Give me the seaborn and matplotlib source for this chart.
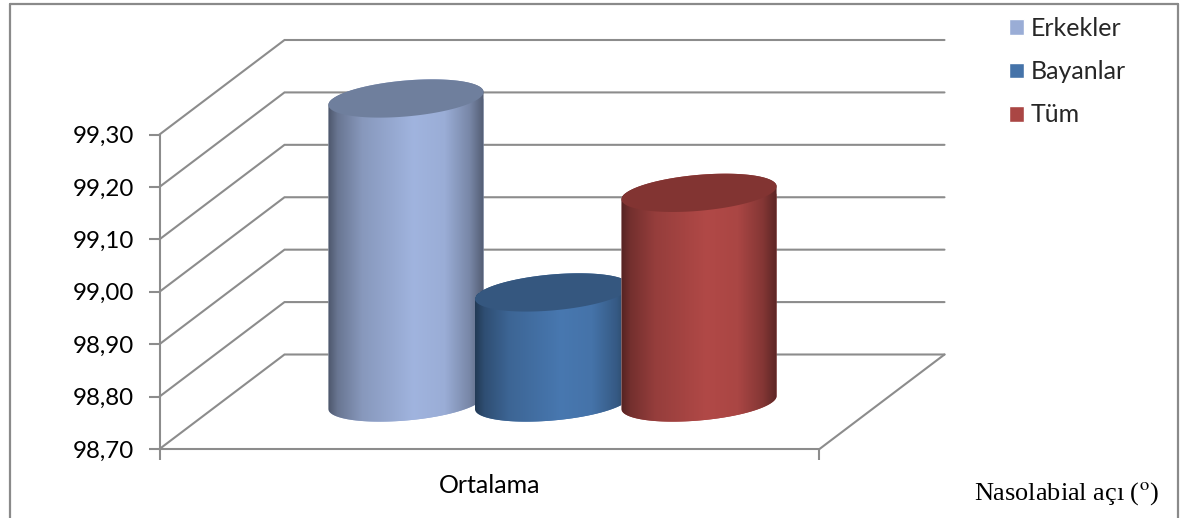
import numpy as np
import pandas as pd
import matplotlib
matplotlib.use("Agg")
import matplotlib.pyplot as plt
from matplotlib.colors import LinearSegmentedColormap, to_rgb
from matplotlib.lines import Line2D
from matplotlib.patches import Polygon
import seaborn as sns

# Chart values
groups = ["Erkekler", "Bayanlar", "Tüm"]
means = [99.28, 98.91, 99.10]
category = "Ortalama"
y_ticks = [98.70, 98.80, 98.90, 99.00, 99.10, 99.20, 99.30]
palette = {"Erkekler": "#9AADD6", "Bayanlar": "#4573A9", "Tüm": "#AA4644"}
cap_colors = {"Erkekler": "#6F7F9D", "Bayanlar": "#35577F", "Tüm": "#823432"}

W, H = 1180, 518
GRID = "#8C8C8C"
FONT = "Lato"

sns.set_theme(style="white")
plt.rcParams["font.family"] = [FONT, "DejaVu Sans"]
plt.rcParams["mathtext.fontset"] = "stix"

fig = plt.figure(figsize=(W / 100, H / 100), dpi=100, facecolor="white")


def axes_box(left, right, top, bottom):
    """Axes rectangle from pixel edges measured from the top-left corner."""
    return [left / W, 1 - bottom / H, (right - left) / W, (bottom - top) / H]


# Outer frame, open at the bottom edge
for xs, ys in [((9.5, 9.5), (H, 4)), ((9.5, 1177.5), (4, 4)), ((1177.5, 1177.5), (4, H))]:
    fig.add_artist(Line2D([x / W for x in xs], [1 - y / H for y in ys],
                          color="#8A8A8A", lw=1.6))

# Front plane: value axis, category ticks and the receding grid
ax = fig.add_axes(axes_box(159.5, 819.5, 134.5, 449), facecolor="none")
ax.set_xlim(0, 1)
ax.set_ylim(y_ticks[0], y_ticks[-1])
px_x = 1 / 660
px_y = (y_ticks[-1] - y_ticks[0]) / 314.5
depth_x, depth_y = 125 * px_x, 94.5 * px_y

for v in y_ticks:
    ax.plot([0, depth_x, 1 + depth_x], [v, v + depth_y, v + depth_y],
            color=GRID, lw=1.5, clip_on=False, solid_joinstyle="miter")
ax.plot([1, 1 + depth_x], [y_ticks[0], y_ticks[0] + depth_y], color=GRID, lw=1.5, clip_on=False)

sns.despine(ax=ax, top=True, right=True)
for side in ("left", "bottom"):
    ax.spines[side].set_color(GRID)
    ax.spines[side].set_linewidth(1.5)
ax.set_yticks(y_ticks)
ax.set_yticklabels([f"{v:.2f}".replace(".", ",") for v in y_ticks], fontsize=17.4, color="black")
ax.set_xticks([0, 1])
ax.set_xticklabels(["", ""])
ax.set_xticks([0.5], [category], minor=True, fontsize=18, color="black")
ax.tick_params(axis="both", which="major", length=8, width=1.5, color=GRID, left=True, bottom=True)
ax.tick_params(axis="y", pad=10.5)
ax.tick_params(axis="x", which="minor", length=0, pad=18)

# Bars stand halfway back along the depth direction
bars_ax = fig.add_axes(axes_box(159.5 + 63, 819.5 + 63, 134.5 - 46.5, 449 - 46.5), facecolor="none")
df = pd.DataFrame({"grup": groups, "ortalama": means, "olcum": [category] * len(groups)})
sns.barplot(data=df, x="olcum", y="ortalama", hue="grup", hue_order=groups, palette=palette,
            width=0.666, gap=0, saturation=1, dodge=True, ax=bars_ax, legend=True)
bars_ax.set_xlim(-0.5, 0.5)
bars_ax.set_ylim(y_ticks[0], y_ticks[-1])
bars_ax.set_axis_off()

# Cylinder bodies: sheared ellipses at both ends and a horizontal shading ramp
half_w = 0.1175
tilt = 6.5 * px_y
half_h = 18 * px_y
ramp_stops = [(0.0, 0.50), (0.06, 0.68), (0.22, 0.88), (0.55, 1.04), (0.75, 1.0), (0.91, 0.78), (1.0, 0.54)]

for i, (patch, name, value) in enumerate(zip(bars_ax.patches, groups, means)):
    cx = patch.get_x() + patch.get_width() / 2
    base = np.array(to_rgb(palette[name]))
    cmap = LinearSegmentedColormap.from_list(
        name, [(p, tuple(np.clip(base * f, 0, 1))) for p, f in ramp_stops])

    t_low = np.linspace(0, np.pi, 80)
    t_up = np.linspace(np.pi, 2 * np.pi, 80)
    # Lower half of the base ellipse, then the far half of the top ellipse
    low = np.c_[cx + half_w * np.cos(t_low),
                y_ticks[0] + tilt * np.cos(t_low) - half_h * np.sin(t_low)]
    up = np.c_[cx + half_w * np.cos(t_up),
               value + tilt * np.cos(t_up) - half_h * np.sin(t_up)]
    outline = Polygon(np.r_[low, up], closed=True, transform=bars_ax.transData)

    z = 3 + i * 3
    patch.set_x(cx - half_w)
    patch.set_width(2 * half_w)
    patch.set_zorder(z)
    patch.set_clip_box(fig.bbox)
    patch.set_clip_path(outline)

    shade = bars_ax.imshow(np.linspace(0, 1, 256)[None, :], cmap=cmap, aspect="auto",
                           extent=[cx - half_w, cx + half_w, y_ticks[0] - 2 * half_h, value + 2 * half_h],
                           zorder=z + 0.5)
    shade.set_clip_box(fig.bbox)
    shade.set_clip_path(outline)

    cap_t = np.linspace(0, 2 * np.pi, 160)
    bars_ax.add_patch(Polygon(np.c_[cx + half_w * np.cos(cap_t),
                                    value + tilt * np.cos(cap_t) + half_h * np.sin(cap_t)],
                              closed=True, facecolor=cap_colors[name], edgecolor="none",
                              zorder=z + 1, clip_on=False))

bars_ax.set_xlim(-0.5, 0.5)
bars_ax.set_ylim(y_ticks[0], y_ticks[-1])

# Legend at the upper right
handles, labels = bars_ax.get_legend_handles_labels()
bars_ax.get_legend().remove()
fig.legend(handles, labels, loc="upper left", bbox_to_anchor=(1009 / W, 1 - 17 / H), frameon=False,
           fontsize=18, handlelength=0.6, handleheight=0.6, handletextpad=0.28, labelspacing=0.81,
           borderpad=0, borderaxespad=0)

fig.text(974 / W, 1 - 500 / H, r"Nasolabial açı ($^{\mathrm{o}}$)",
         family="Liberation Serif", fontsize=18.9, color="black", ha="left", va="baseline")

fig.savefig("out.png", dpi=100, facecolor="white")
